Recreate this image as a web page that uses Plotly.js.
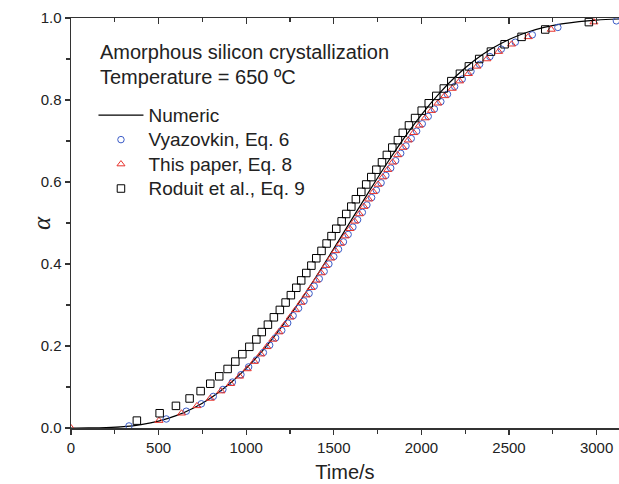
<!DOCTYPE html>
<html>
<head>
<meta charset="utf-8">
<script src="https://cdn.plot.ly/plotly-3.0.1.min.js"></script>
<style>html,body{margin:0;padding:0;background:#fff;}#chart{width:619px;height:484px;}</style>
</head>
<body>
<div id="chart"></div>
<script>
// Numeric curve
const numT = [0, 100, 200, 300, 400, 500, 600, 700, 800, 900, 1000, 1100, 1200, 1300, 1400, 1500, 1600, 1700, 1800, 1900, 2000, 2100, 2200, 2300, 2400, 2500, 2600, 2700, 2800, 2900, 3000, 3130];
const numA = [0, 0.0001, 0.0009, 0.0033, 0.0084, 0.0169, 0.0302, 0.049, 0.074, 0.106, 0.1455, 0.192, 0.2455, 0.305, 0.3695, 0.4374, 0.507, 0.576, 0.6433, 0.7064, 0.764, 0.815, 0.859, 0.8955, 0.9248, 0.9477, 0.9647, 0.977, 0.9856, 0.9913, 0.9949, 0.9976];

// Vyazovkin, Eq. 6 (circles)
const vyT = [331, 544, 658, 744, 812, 867, 921, 970, 1014, 1058, 1098, 1134, 1168, 1203, 1237, 1268, 1299, 1330, 1359, 1388, 1417, 1445, 1472, 1500, 1527, 1555, 1582, 1609, 1636, 1663, 1689, 1716, 1743, 1770, 1797, 1825, 1853, 1882, 1912, 1942, 1973, 2005, 2039, 2074, 2111, 2149, 2190, 2233, 2283, 2332, 2391, 2456, 2536, 2633, 2779, 3113];
const vyA = [0.005, 0.022, 0.041, 0.059, 0.077, 0.094, 0.112, 0.130, 0.149, 0.166, 0.184, 0.202, 0.220, 0.238, 0.256, 0.274, 0.292, 0.310, 0.328, 0.346, 0.364, 0.382, 0.400, 0.418, 0.436, 0.454, 0.472, 0.490, 0.508, 0.526, 0.544, 0.562, 0.580, 0.598, 0.616, 0.634, 0.652, 0.670, 0.688, 0.706, 0.724, 0.742, 0.760, 0.778, 0.796, 0.814, 0.833, 0.851, 0.870, 0.887, 0.906, 0.924, 0.941, 0.959, 0.977, 0.993];

// This paper, Eq. 8 (triangles)
const tpT = [0, 502, 631, 719, 795, 856, 911, 962, 1006, 1046, 1083, 1118, 1152, 1187, 1220, 1251, 1282, 1313, 1342, 1371, 1400, 1428, 1455, 1483, 1510, 1538, 1565, 1592, 1619, 1646, 1672, 1699, 1726, 1753, 1780, 1808, 1836, 1865, 1895, 1925, 1956, 1988, 2022, 2057, 2094, 2133, 2176, 2218, 2268, 2317, 2374, 2441, 2515, 2610, 2741, 2985];
const tpA = [0, 0.018, 0.036, 0.054, 0.072, 0.090, 0.108, 0.126, 0.144, 0.162, 0.180, 0.198, 0.216, 0.234, 0.252, 0.270, 0.288, 0.306, 0.324, 0.342, 0.360, 0.378, 0.396, 0.414, 0.432, 0.450, 0.468, 0.486, 0.504, 0.522, 0.540, 0.558, 0.576, 0.594, 0.612, 0.630, 0.648, 0.666, 0.684, 0.702, 0.720, 0.738, 0.756, 0.774, 0.792, 0.810, 0.828, 0.846, 0.864, 0.882, 0.900, 0.918, 0.936, 0.954, 0.972, 0.990];

// Roduit et al., Eq. 9 (squares)
const roT = [376, 506, 599, 677, 740, 795, 846, 894, 938, 978, 1018, 1058, 1089, 1124, 1158, 1192, 1225, 1255, 1286, 1314, 1343, 1372, 1400, 1430, 1459, 1487, 1514, 1545, 1571, 1600, 1626, 1657, 1685, 1714, 1743, 1775, 1803, 1834, 1866, 1894, 1929, 1964, 2002, 2042, 2085, 2128, 2171, 2220, 2271, 2330, 2397, 2475, 2572, 2707, 2956];
const roA = [0.018, 0.036, 0.054, 0.072, 0.090, 0.108, 0.126, 0.144, 0.162, 0.180, 0.198, 0.216, 0.234, 0.252, 0.270, 0.288, 0.306, 0.324, 0.342, 0.360, 0.378, 0.396, 0.414, 0.432, 0.450, 0.468, 0.486, 0.504, 0.522, 0.540, 0.558, 0.576, 0.594, 0.612, 0.630, 0.648, 0.666, 0.684, 0.702, 0.720, 0.738, 0.756, 0.774, 0.792, 0.810, 0.828, 0.846, 0.864, 0.882, 0.900, 0.918, 0.936, 0.954, 0.972, 0.990];

const seriesNames = ['Numeric', 'Vyazovkin, Eq. 6', 'This paper, Eq. 8', 'Roduit et al., Eq. 9'];
const xTickVals = [0, 500, 1000, 1500, 2000, 2500, 3000];
const yTickVals = [0, 0.2, 0.4, 0.6, 0.8, 1.0];
const yTickText = ['0.0', '0.2', '0.4', '0.6', '0.8', '1.0'];

const FONT = 'Liberation Sans, Arial, sans-serif';
const AX = '#333333';
const big = s => '<span style="font-size:19px">' + s + '</span>';

const traces = [
  {x: numT, y: numA, type: 'scatter', mode: 'lines', name: big(seriesNames[0]),
   line: {color: '#000', width: 1.2, shape: 'spline'}},
  {x: vyT, y: vyA, type: 'scatter', mode: 'markers', name: big(seriesNames[1]),
   marker: {symbol: 'circle-open', size: 6.5, color: '#3a5bc7', line: {width: 1}}},
  {x: tpT, y: tpA, type: 'scatter', mode: 'markers', name: big(seriesNames[2]),
   marker: {symbol: 'triangle-up-open', size: 7, color: '#e8322c', line: {width: 1}}},
  {x: roT, y: roA, type: 'scatter', mode: 'markers', name: big(seriesNames[3]),
   marker: {symbol: 'square-open', size: 7.5, color: '#000', line: {width: 1}}},
  {x: [0], y: [0], xaxis: 'x2', type: 'scatter', mode: 'markers', showlegend: false,
   hoverinfo: 'skip', marker: {opacity: 0}}
];

const layout = {
  width: 619, height: 484,
  margin: {l: 71, r: 0, t: 18, b: 56},
  paper_bgcolor: '#fff', plot_bgcolor: '#fff',
  font: {family: FONT, color: '#222'},
  showlegend: true,
  legend: {x: 0.041, y: 0.805, xanchor: 'left', yanchor: 'top',
           font: {family: FONT, size: 16.5, color: '#222'},
           itemwidth: 45, bgcolor: 'rgba(0,0,0,0)', tracegroupgap: 0},
  xaxis: {range: [0, 3128], showgrid: false, zeroline: false,
          showline: true, linecolor: AX, linewidth: 1.5,
          ticks: 'outside', ticklen: 5, tickwidth: 1.2, tickcolor: AX,
          tickmode: 'array', tickvals: xTickVals,
          tickfont: {family: FONT, size: 15, color: '#222'},
          minor: {ticks: 'outside', dtick: 250, tick0: 0, ticklen: 4, tickwidth: 1.2, tickcolor: AX},
          title: {text: 'Time/s', font: {family: FONT, size: 20, color: '#222'}, standoff: 10}},
  xaxis2: {range: [0, 3128], overlaying: 'x', side: 'top', anchor: 'y',
           showgrid: false, zeroline: false, showline: true, linecolor: AX, linewidth: 1.5,
           ticks: 'inside', ticklen: 6, tickwidth: 1.2, tickcolor: AX,
           tickmode: 'array', tickvals: xTickVals, showticklabels: false,
           minor: {ticks: 'inside', dtick: 250, tick0: 0, ticklen: 4, tickwidth: 1.2, tickcolor: AX}},
  yaxis: {range: [0, 1.0], showgrid: false, zeroline: false,
          showline: true, linecolor: AX, linewidth: 1.5,
          ticks: 'outside', ticklen: 5, tickwidth: 1.2, tickcolor: AX,
          tickmode: 'array', tickvals: yTickVals, ticktext: yTickText,
          tickfont: {family: FONT, size: 15, color: '#222'},
          minor: {ticks: 'outside', dtick: 0.1, tick0: 0, ticklen: 4, tickwidth: 1.2, tickcolor: AX}},
  annotations: [
    {xref: 'paper', yref: 'paper', x: 0.049, y: 0.917, xanchor: 'left', yanchor: 'middle',
     text: 'Amorphous silicon crystallization', showarrow: false,
     font: {family: FONT, size: 20, color: '#222'}},
    {xref: 'paper', yref: 'paper', x: 0.049, y: 0.857, xanchor: 'left', yanchor: 'middle',
     text: 'Temperature = 650 ºC', showarrow: false,
     font: {family: FONT, size: 20, color: '#222'}},
    {xref: 'paper', yref: 'paper', x: 0, y: 0.5, xanchor: 'center', yanchor: 'middle',
     xshift: -30, textangle: -90, text: '<i>α</i>', showarrow: false,
     font: {family: 'Liberation Serif, Times New Roman, serif', size: 25, color: '#222'}}
  ]
};

Plotly.newPlot('chart', traces, layout, {displayModeBar: false, staticPlot: true});
</script>
</body>
</html>
